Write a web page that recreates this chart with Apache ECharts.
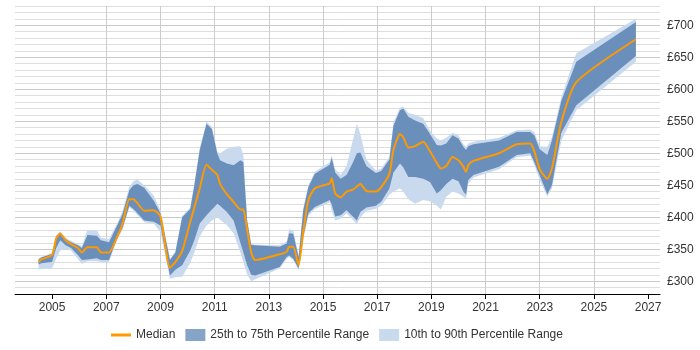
<!DOCTYPE html>
<html>
<head>
<meta charset="utf-8">
<script src="https://cdn.jsdelivr.net/npm/echarts@6/dist/echarts.min.js"></script>
<style>
  html, body { margin: 0; padding: 0; background: #fff; }
  #chart { width: 700px; height: 350px; }
</style>
</head>
<body>
<div id="chart"></div>
<script>
// sample dates (decimal years) and percentile values in £
var years = [2004.5, 2004.6, 2005.0, 2005.15, 2005.3, 2005.5, 2005.7, 2005.95, 2006.1, 2006.3,
  2006.65, 2006.8, 2007.1, 2007.4, 2007.6, 2007.85, 2008.0, 2008.15, 2008.4, 2008.75,
  2009.0, 2009.35, 2009.55, 2009.8, 2010.1, 2010.25, 2010.45, 2010.7, 2010.9, 2011.1,
  2011.2, 2011.45, 2011.7, 2011.95, 2012.06, 2012.2, 2012.35, 2012.5, 2013.4, 2013.66,
  2013.75, 2013.9, 2014.1, 2014.27, 2014.46, 2014.7, 2015.25, 2015.32, 2015.45, 2015.65,
  2015.87, 2016.1, 2016.25, 2016.38, 2016.6, 2016.95, 2017.15, 2017.45, 2017.6, 2017.84,
  2017.96, 2018.15, 2018.4, 2018.7, 2018.95, 2019.2, 2019.35, 2019.55, 2019.78, 2020.0,
  2020.18, 2020.28, 2020.36, 2020.55, 2021.5, 2022.15, 2022.65, 2022.8, 2023.0, 2023.28,
  2023.45, 2023.8, 2024.35, 2026.55];

var median = [330, 334, 341, 367, 374, 364, 358, 352, 345, 353,
  353, 345, 345, 369, 390, 428, 428, 422, 410, 411,
  401, 321, 330, 347, 393, 415, 445, 482, 474, 466,
  452, 436, 424, 412, 412, 380, 345, 333, 342, 346,
  354, 354, 325, 377, 427, 445, 453, 461, 437, 431,
  440, 443, 448, 452, 441, 440, 447, 468, 505, 530,
  525, 509, 511, 518, 503, 485, 476, 480, 494, 489,
  479, 471, 481, 488, 500, 514, 515, 503, 475, 460,
  476, 549, 611, 678];

var p25 = [326, 328, 330, 352, 364, 356, 352, 341, 333, 334,
  336, 333, 333, 368, 383, 418, 413, 406, 395, 393,
  387, 309, 318, 325, 348, 364, 390, 403, 412, 421,
  418, 408, 395, 360, 345, 325, 310, 309, 322, 338,
  340, 335, 320, 369, 406, 416, 427, 420, 401, 403,
  411, 401, 395, 408, 415, 418, 424, 445, 470, 484,
  478, 463, 463, 460, 455, 437, 442, 452, 460, 456,
  440, 435, 458, 466, 479, 497, 500, 486, 465, 436,
  450, 532, 575, 652];

var p75 = [334, 337, 343, 370, 376, 366, 361, 356, 352, 372,
  371, 364, 361, 387, 405, 442, 450, 452, 446, 426,
  406, 333, 345, 400, 413, 450, 505, 546, 538, 499,
  489, 484, 481, 489, 486, 395, 357, 356, 354, 359,
  375, 374, 338, 411, 447, 468, 482, 493, 470, 460,
  466, 485, 500, 501, 480, 469, 472, 490, 543, 567,
  570, 557, 551, 546, 530, 513, 512, 515, 528, 523,
  510, 505, 511, 514, 520, 533, 533, 528, 506, 497,
  520, 582, 643, 705];

var p10 = [318, 319, 320, 335, 348, 350, 348, 335, 327, 331,
  331, 330, 330, 365, 380, 415, 410, 403, 392, 390,
  377, 304, 306, 307, 329, 345, 370, 387, 395, 400,
  396, 388, 375, 345, 330, 310, 300, 303, 320, 335,
  338, 333, 317, 365, 402, 413, 423, 410, 395, 398,
  406, 396, 389, 400, 410, 413, 418, 435, 440, 445,
  440, 428, 421, 427, 425, 418, 412, 432, 440, 437,
  432, 429, 452, 462, 475, 494, 496, 482, 458, 432,
  445, 520, 567, 643];

var p90 = [336, 338, 344, 372, 378, 368, 363, 358, 355, 380,
  380, 368, 366, 390, 410, 447, 456, 459, 450, 434,
  411, 335, 346, 402, 415, 452, 508, 549, 541, 502,
  500, 507, 510, 511, 497, 395, 358, 357, 356, 362,
  381, 380, 340, 414, 450, 471, 486, 497, 475, 466,
  480, 520, 546, 530, 490, 473, 476, 494, 548, 571,
  573, 563, 560, 555, 535, 523, 520, 524, 532, 528,
  514, 510, 515, 518, 524, 536, 537, 533, 511, 510,
  525, 588, 656, 710];

var yearTicks = [2005, 2007, 2009, 2011, 2013, 2015, 2017, 2019, 2021, 2023, 2025, 2027];

// x axis runs on (year - X0) so the 2-year ticks land on odd years
var X0 = 2005;
var xMin = 2003.63, xMax = 2027.44;

function pts(vals) {
  return years.map(function (y, i) { return [y - X0, vals[i]]; });
}

// band between two percentile arrays, drawn as one polygon through the axes
function bandItem(lo, hi, color) {
  return function (params, api) {
    if (params.dataIndex !== 0) return null;
    var poly = [];
    var i;
    for (i = 0; i < years.length; i++) poly.push(api.coord([years[i] - X0, hi[i]]));
    for (i = years.length - 1; i >= 0; i--) poly.push(api.coord([years[i] - X0, lo[i]]));
    return {
      type: 'polygon',
      shape: { points: poly },
      style: { fill: color }
    };
  };
}

var darkBlue = '#6b8fbb';
var lightBlue = '#c9daee';

var chart = echarts.init(document.getElementById('chart'));
var fontFamily = '"Liberation Sans", Arial, sans-serif';

var option = {
  animation: false,
  textStyle: { fontFamily: fontFamily },
  grid: { left: 15, right: 40, top: 6, bottom: 56 },
  legend: {
    bottom: 4,
    left: 106,
    itemWidth: 20,
    itemHeight: 12,
    itemGap: 10,
    textStyle: { fontSize: 12, color: '#333', fontFamily: fontFamily },
    data: [
      { name: 'Median', icon: 'path://M0,5 L20,5 L20,8 L0,8 Z' },
      { name: '25th to 75th Percentile Range', icon: 'rect' },
      { name: '10th to 90th Percentile Range', icon: 'rect' }
    ]
  },
  xAxis: {
    type: 'value',
    min: xMin - X0,
    max: xMax - X0,
    interval: 2,
    axisLine: { show: true, lineStyle: { color: '#000', width: 1 } },
    axisTick: {
      show: true, length: 5, lineStyle: { color: '#000' },
      customValues: yearTicks.map(function (y) { return y - X0; })
    },
    axisLabel: {
      color: '#333', fontSize: 12, margin: 8,
      customValues: yearTicks.map(function (y) { return y - X0; }),
      formatter: function (v) { return String(Math.round(v + X0)); }
    },
    splitLine: {
      show: true, showMinLine: false, showMaxLine: false,
      lineStyle: { color: '#cccccc', width: 1 }
    }
  },
  yAxis: {
    type: 'value',
    position: 'right',
    min: 280,
    max: 730,
    interval: 10,
    axisLine: { show: false },
    axisTick: { show: false },
    axisLabel: {
      color: '#333', fontSize: 12, margin: 7,
      formatter: function (v) { return v % 50 === 0 ? '£' + v : ''; }
    },
    splitLine: {
      show: true,
      lineStyle: { color: ['#dedede', '#dedede', '#c8c8c8', '#dedede', '#dedede'], width: 1 }
    }
  },
  series: [
    {
      name: '10th to 90th Percentile Range', type: 'custom',
      renderItem: bandItem(p10, p90, lightBlue),
      data: pts(p90), itemStyle: { color: lightBlue }, silent: true, z: 2
    },
    {
      name: '25th to 75th Percentile Range', type: 'custom',
      renderItem: bandItem(p25, p75, darkBlue),
      data: pts(p75), itemStyle: { color: '#86a4c7' }, silent: true, z: 3
    },
    {
      name: 'Median', type: 'line', data: pts(median), symbol: 'none', smooth: 0.2,
      itemStyle: { color: '#ff9900' },
      lineStyle: { color: '#ff9900', width: 2 }, z: 5
    }
  ]
};

chart.setOption(option);
</script>
</body>
</html>
